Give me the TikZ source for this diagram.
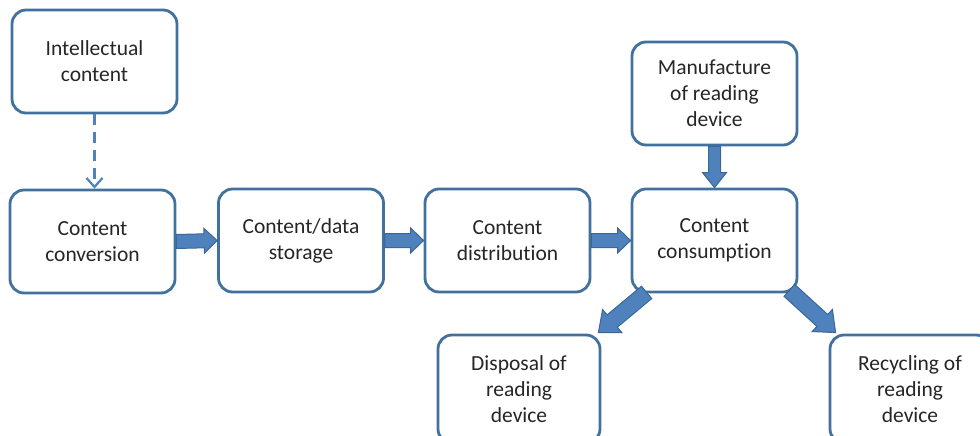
\documentclass[tikz,border=0pt]{standalone}
\usepackage{fontspec}
\setmainfont{Carlito}[Ligatures=NoCommon]
\usetikzlibrary{calc,arrows.meta}
\definecolor{boxline}{HTML}{41719C}
\definecolor{arrowfill}{HTML}{4F81BD}
\definecolor{arrowline}{HTML}{3A6796}
\definecolor{dashblue}{HTML}{4F81BD}
\definecolor{txt}{HTML}{262626}
\newcommand\blockarrow[5]{%
  \coordinate (tmpC) at ($(#2)!#5!(#1)$);
  \filldraw[blockarr]
    ($(#1)!#3!90:(#2)$) -- ($(tmpC)!#3!90:(#2)$) -- ($(tmpC)!#4!90:(#2)$) --
    (#2) -- ($(tmpC)!#4!-90:(#2)$) -- ($(tmpC)!#3!-90:(#2)$) --
    ($(#1)!#3!-90:(#2)$) -- cycle;
}
\tikzset{
  box/.style={draw=boxline, line width=2.8pt, rounded corners=14pt, fill=white,
    text=txt, align=center, font=\fontsize{21.5}{26}\selectfont,
    minimum width=165pt, minimum height=103pt, inner sep=0pt},
  blockarr/.style={fill=arrowfill, draw=arrowline, line width=1pt, line join=miter},
  dasharr/.style={draw=dashblue, line width=2.5pt, dash pattern=on 11pt off 7pt,
    -{Straight Barb[length=9pt,width=16pt,line width=2.2pt]}}
}
\begin{document}
\begin{tikzpicture}[x=1pt,y=-1pt]
\useasboundingbox (0,0) rectangle (980,436);
\clip (0,0) rectangle (980,436);
\node[box] (intel) at (94.5,61.5) {Intellectual\\content};
\node[box] (conv) at (92.5,241.5) {Content\\conversion};
\node[box] (stor) at (301,240.5) {Content/data\\storage};
\node[box] (dist) at (507.5,240.5) {Content\\distribution};
\node[box] (cons) at (714.5,240.5) {Content\\consumption};
\node[box] (manu) at (714.5,93.5) {Manufacture\\of reading\\device};
\node[box, minimum width=162pt, minimum height=108pt] (disp) at (519,389) {Disposal of\\reading\\device};
\node[box, minimum width=160pt, minimum height=108pt] (recy) at (910,389) {Recycling of\\reading\\device};

\draw[dasharr] (intel.south) -- (intel.south |- conv.north);

\blockarrow{conv.east}{stor.west}{7pt}{12.5pt}{13pt}
\blockarrow{stor.east}{dist.west}{7pt}{12.5pt}{13pt}
\blockarrow{dist.east}{cons.west}{7pt}{12.5pt}{13pt}
\blockarrow{manu.south}{cons.north}{6pt}{12pt}{15pt}
\coordinate (dl1) at ($(cons.south west)+(16,-1)$);
\coordinate (dl2) at ($(disp.north east)+(-3,-1)$);
\coordinate (dr1) at ($(cons.south east)+(-9,-3)$);
\coordinate (dr2) at ($(recy.north west)+(7,-1)$);
\blockarrow{dl1}{dl2}{8pt}{15pt}{18pt}
\blockarrow{dr1}{dr2}{8pt}{15pt}{18pt}
\end{tikzpicture}
\end{document}
